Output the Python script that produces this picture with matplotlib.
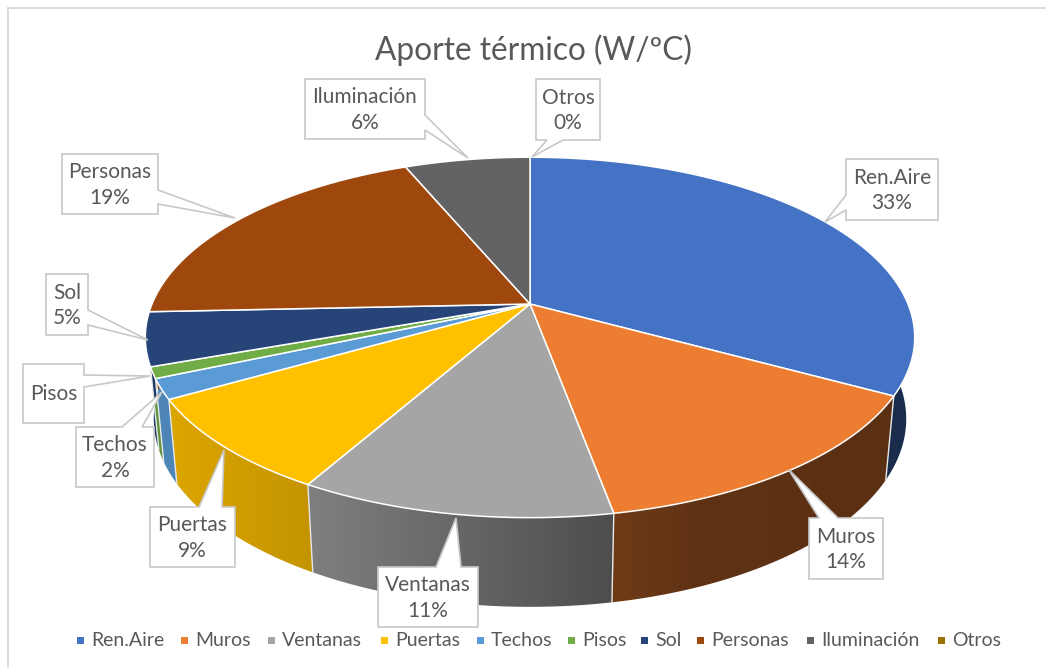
import numpy as np
import matplotlib
matplotlib.use("Agg")
import matplotlib.pyplot as plt
from matplotlib.patches import Polygon, Rectangle

# ---- data ----
categories = ["Ren.Aire", "Muros", "Ventanas", "Puertas", "Techos", "Pisos", "Sol", "Personas", "Iluminación", "Otros"]
values = [33.0, 14.1, 11.1, 8.5, 1.8, 1.0, 4.8, 19.4, 6.3, 0.0]
pct_labels = ["33%", "14%", "11%", "9%", "2%", "", "5%", "19%", "6%", "0%"]
colors = ["#4472C4", "#ED7D31", "#A5A5A5", "#FFC000", "#5B9BD5", "#70AD47", "#264478", "#9E480E", "#636363", "#997300"]

plt.rcParams["font.family"] = ["Lato", "DejaVu Sans"]
TXT = "#595959"
EDGE = "#C8C8C8"

fig = plt.figure(figsize=(10.46, 6.68), dpi=100)
ax = fig.add_axes([0, 0, 1, 1])
ax.axis("off")

# chart frame (only the top and left edges are in view)
ax.plot([8, 8], [668, 8], color="#D9D9D9", lw=1.4, zorder=1)
ax.plot([8, 1045], [8, 8], color="#D9D9D9", lw=1.4, zorder=1)

# perspective projection of the pie disc
CX, CY = 530.0, 304.0
K, A, B = 0.1856, 174.0, 378.0


def top(t):
    X, Y = np.sin(t), -np.cos(t)
    w = 1 - K * Y
    return B * X / w, A * Y / w


def xy_top(t):
    dx, dy = top(t)
    return CX + dx, CY + dy


def xy_bot(t):
    dx, dy = top(t)
    return CX + 0.978 * dx, CY + 80 + 1.043 * dy


def shade(x):
    return np.interp(x, [175, 310, 612, 700, 887, 910], [0.86, 0.77, 0.47, 0.40, 0.38, 0.40])


fractions = np.array(values) / sum(values)
edges = np.concatenate([[0], np.cumsum(fractions)]) * 2 * np.pi

# side walls with horizontal gradient
rgb = [np.array(matplotlib.colors.to_rgb(c)) for c in colors]
for i in range(len(values)):
    t0, t1 = edges[i], edges[i + 1]
    if t1 - t0 <= 0:
        continue
    ts = np.linspace(t0, t1, max(3, int((t1 - t0) / np.radians(0.5))))
    upper = np.array([xy_top(t) for t in ts])
    lower = np.array([xy_bot(t) for t in ts])
    outline = np.vstack([upper, lower[::-1]])
    x0, x1 = outline[:, 0].min() - 1, outline[:, 0].max() + 1
    y0, y1 = outline[:, 1].min() - 1, outline[:, 1].max() + 1
    xs = np.linspace(x0, x1, 200)
    grad = (rgb[i][None, :] * shade(xs)[:, None])[None, :, :]
    wall = Polygon(outline, closed=True, fc="none", ec="none", transform=ax.transData)
    ax.add_patch(wall)
    im = ax.imshow(grad, extent=(x0, x1, y1, y0), aspect="auto", interpolation="bilinear", zorder=2)
    im.set_clip_path(wall)
    # pale seams between walls on the visible side
    if np.pi * 0.5 < t1 < np.pi * 1.5:
        ax.plot(*zip(xy_top(t1), xy_bot(t1)), color="#E8E8E8", lw=1.0, zorder=3)

# top faces
for i in range(len(values)):
    t0, t1 = edges[i], edges[i + 1]
    if t1 - t0 <= 0:
        continue
    ts = np.linspace(t0, t1, max(3, int((t1 - t0) / np.radians(0.5))))
    arc = [xy_top(t) for t in ts]
    ax.add_patch(Polygon([(CX, CY)] + arc, closed=True, fc=colors[i], ec="white", lw=1.1, joinstyle="round", zorder=4))

ax.set_xlim(0, 1046)
ax.set_ylim(668, 0)

# title
ax.text(533, 50, "Aporte térmico (W/ºC)", fontsize=22.8, color=TXT, ha="center", va="center", zorder=8)


# callouts: box (x0, y0, x1, y1), wedge base (side, a, b), tip
def callout(text, box, side, a, b, tip):
    x0, y0, x1, y1 = box
    pts = [(x0, y0)]
    if side == "top":
        pts += [(a, y0), tip, (b, y0)]
    pts += [(x1, y0)]
    if side == "right":
        pts += [(x1, a), tip, (x1, b)]
    pts += [(x1, y1)]
    pts += [(x0, y1)]
    if side == "bottom":
        pts = [(x0, y0), (x1, y0), (x1, y1), (b, y1), tip, (a, y1), (x0, y1)]
    if side == "left":
        pts += [(x0, b), tip, (x0, a)]
    ax.add_patch(Polygon(pts, closed=True, fc="white", ec=EDGE, lw=1.2, zorder=6))
    ax.text((x0 + x1) / 2, (y0 + y1) / 2 + 1, text, fontsize=15, color=TXT, ha="center", va="center",
            linespacing=1.36, zorder=7)


layout = {
    "Ren.Aire": ((846, 159, 938, 220), "left", 195, 210, (825, 222)),
    "Muros": ((809, 518, 883, 579), "top", 819, 838, (789, 470)),
    "Ventanas": ((378, 567, 478, 627), "top", 436, 461, (456, 518)),
    "Puertas": ((150, 507, 235, 567), "top", 199, 222, (224, 450)),
    "Techos": ((76, 427, 154, 487), "top", 122, 142, (162, 392)),
    "Pisos": ((23, 364, 84, 423), "right", 375, 387, (150, 376)),
    "Sol": ((46, 274, 88, 335), "right", 310, 325, (148, 340)),
    "Personas": ((62, 154, 158, 214), "right", 190, 204, (235, 218)),
    "Iluminación": ((305, 79, 425, 139), "right", 115, 130, (468, 158)),
    "Otros": ((536, 79, 600, 140), "bottom", 547, 563, (532, 157)),
}
for name, pct in zip(categories, pct_labels):
    box, side, a, b, tip = layout[name]
    text = f"{name}\n{pct}" if pct else name
    callout(text, box, side, a, b, tip)

# legend
legend_x = [80, 184, 271, 384, 480, 571, 644, 700, 810, 941]
for name, col, lx in zip(categories, colors, legend_x):
    ax.add_patch(Rectangle((lx - 3, 637), 7, 7, fc=col, ec="none", zorder=6))
    ax.text(lx + 11, 640, name, fontsize=14, color=TXT, ha="left", va="center", zorder=7)

fig.savefig("out.png", dpi=100)
